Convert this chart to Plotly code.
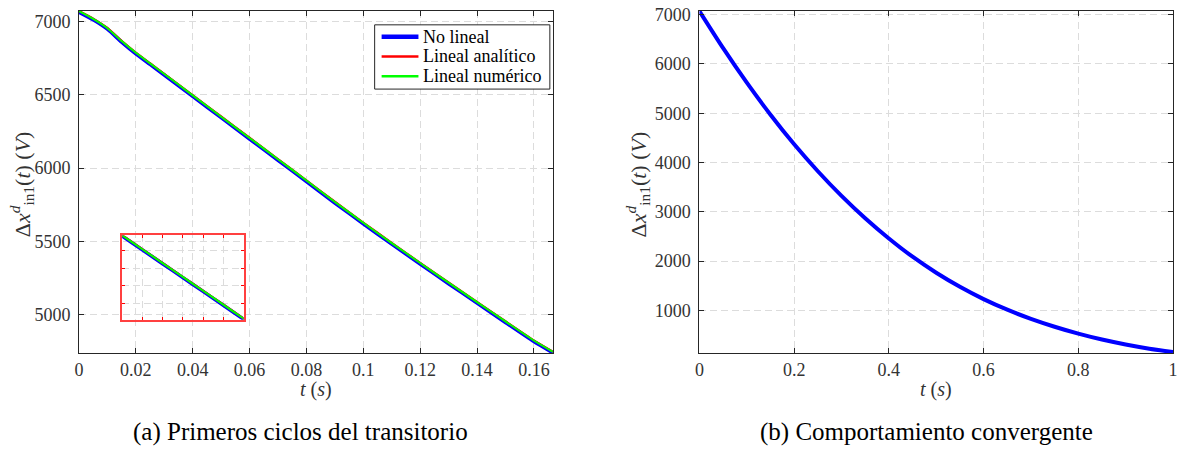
import plotly.graph_objects as go

# ---------------- data ----------------
# (a) first cycles of the transient
t_a = [0.0, 0.005, 0.01, 0.015, 0.02, 0.025, 0.03, 0.04, 0.05, 0.06, 0.07,
       0.08, 0.09, 0.10, 0.11, 0.12, 0.13, 0.14, 0.15, 0.16, 0.1667]
no_lineal = [7062, 7010, 6946, 6858, 6778, 6706, 6634, 6488, 6343, 6198, 6053,
             5908, 5762, 5620, 5482, 5346, 5212, 5080, 4948, 4818, 4741]
lineal_analitico = [7071, 7019, 6955, 6867, 6787, 6715, 6643, 6497, 6352, 6207, 6062,
                    5917, 5771, 5629, 5491, 5355, 5221, 5089, 4957, 4827, 4750]
lineal_numerico = [7069, 7017, 6953, 6865, 6785, 6713, 6641, 6495, 6350, 6205, 6060,
                   5915, 5769, 5627, 5489, 5353, 5219, 5087, 4955, 4825, 4748]

# (b) convergent behaviour
t_b = [0.0, 0.05, 0.10, 0.15, 0.20, 0.25, 0.30, 0.35, 0.40, 0.45, 0.50,
       0.55, 0.60, 0.65, 0.70, 0.75, 0.80, 0.85, 0.90, 0.95, 1.0]
conv = [7070, 6320, 5620, 4970, 4370, 3824, 3324, 2870, 2460, 2090, 1765,
        1480, 1230, 1015, 830, 670, 530, 410, 310, 225, 155]

xa_ticks = [0, 0.02, 0.04, 0.06, 0.08, 0.10, 0.12, 0.14, 0.16]
xa_text = ["0", "0.02", "0.04", "0.06", "0.08", "0.1", "0.12", "0.14", "0.16"]
ya_ticks = [5000, 5500, 6000, 6500, 7000]
xb_ticks = [0, 0.2, 0.4, 0.6, 0.8, 1.0]
xb_text = ["0", "0.2", "0.4", "0.6", "0.8", "1"]
yb_ticks = [1000, 2000, 3000, 4000, 5000, 6000, 7000]

series_names = ["No lineal", "Lineal analítico", "Lineal numérico"]
series_colors = ["#0000ff", "#ff0000", "#00ff00"]
caption_a = "(a) Primeros ciclos del transitorio"
caption_b = "(b) Comportamiento convergente"

# ---------------- figure ----------------
FONT = "Liberation Serif"
AX = "#262626"
TXT = "#333333"
GRID = "#dcdcdc"

W, H = 1183, 451
L, R, T, B = 79, 5, 7, 98
pw = W - L - R
ph = H - T - B


def px(x):
    return (x - L) / pw


def py(y):
    return 1 - (y - T) / ph


fig = go.Figure()
widths = [3.5, 2, 2]
series_vals = [no_lineal, lineal_analitico, lineal_numerico]
for vals, col, w, name in zip(series_vals, series_colors, widths, series_names):
    fig.add_trace(go.Scatter(x=t_a, y=vals, mode="lines", name=name, showlegend=False,
                             line=dict(color=col, width=w, shape="spline", smoothing=0.5),
                             xaxis="x", yaxis="y"))
# inset (zoom window)
for vals, col, w, name in zip(series_vals, series_colors, widths, series_names):
    fig.add_trace(go.Scatter(x=t_a, y=vals, mode="lines", name=name, showlegend=False,
                             line=dict(color=col, width=w, shape="spline", smoothing=0.5),
                             xaxis="x3", yaxis="y3"))
fig.add_trace(go.Scatter(x=t_b, y=conv, mode="lines", name=series_names[0], showlegend=False,
                         line=dict(color="#0000ff", width=4, shape="spline", smoothing=0.8),
                         xaxis="x2", yaxis="y2"))

common = dict(showline=True, linecolor=AX, linewidth=1, mirror="ticks", ticks="inside",
              ticklen=5, tickcolor=AX, showgrid=True, gridcolor=GRID, gridwidth=1,
              griddash="7px,4px", zeroline=False,
              tickfont=dict(family=FONT, size=18, color=TXT))
inset = dict(showline=True, linecolor="#ff4040", linewidth=1.5, mirror="ticks",
             ticks="inside", ticklen=3, tickcolor="#ff0000", showticklabels=False,
             tickmode="linear", showgrid=True, gridcolor=GRID, griddash="7px,4px",
             zeroline=False)

fig.update_layout(
    width=W, height=H,
    margin=dict(l=L, r=R, t=T, b=B),
    paper_bgcolor="white", plot_bgcolor="rgba(0,0,0,0)",
    font=dict(family=FONT, color=TXT),
    showlegend=False,
    xaxis=dict(domain=[0, px(555)], range=[0, 1 / 6], tickvals=xa_ticks, ticktext=xa_text,
               anchor="y", **common),
    yaxis=dict(domain=[0, 1], range=[4740, 7070], tickvals=ya_ticks, anchor="x",
               ticklabelstandoff=4, **common),
    xaxis2=dict(domain=[px(702.3), 1], range=[0, 1], tickvals=xb_ticks, ticktext=xb_text,
                anchor="y2", **common),
    yaxis2=dict(domain=[0, 1], range=[137, 7074], tickvals=yb_ticks, anchor="x2",
                ticklabelstandoff=4, **common),
    xaxis3=dict(domain=[px(122.3), px(244.3)], range=[0.03, 0.09], anchor="y3",
                tick0=0.03, dtick=0.01, **inset),
    yaxis3=dict(domain=[py(319.3), py(234)], range=[5757, 6640], anchor="x3",
                tick0=5923, dtick=187, **inset),
)

ann = []
shapes = []
ylab = "Δ<i>x</i><sup><i>d</i></sup><sub>in1</sub>(<i>t</i>) (<i>V</i>)"
for xpix in (22, 641):
    ann.append(dict(text=ylab, x=px(xpix), y=py(182), xref="paper", yref="paper", textangle=-90,
                    xanchor="center", yanchor="middle",
                    showarrow=False, font=dict(family=FONT, size=22, color=TXT)))
xlab = "<i>t</i> (<i>s</i>)"
for xpix in (317, 940):
    ann.append(dict(text=xlab, x=px(xpix), y=py(390), xref="paper", yref="paper",
                    xanchor="center", yanchor="middle",
                    showarrow=False, font=dict(family=FONT, size=20, color=TXT)))
for cap, xpix in ((caption_a, 302), (caption_b, 930)):
    ann.append(dict(text=cap, x=px(xpix), y=py(433), xref="paper", yref="paper",
                    xanchor="center", yanchor="middle",
                    showarrow=False, font=dict(family=FONT, size=25, color="#000000")))

# legend box (drawn like the MATLAB legend)
shapes.append(dict(type="rect", xref="paper", yref="paper", x0=px(376), x1=px(552),
                   y0=py(86), y1=py(21), line=dict(color="#262626", width=1),
                   fillcolor="white", layer="above"))
for i, (name, col, w) in enumerate(zip(series_names, series_colors, [4.5, 2.5, 2.5])):
    yy = 33 + 20 * i
    shapes.append(dict(type="line", xref="paper", yref="paper", x0=px(383), x1=px(420),
                       y0=py(yy), y1=py(yy), line=dict(color=col, width=w), layer="above"))
    ann.append(dict(text=name, x=px(423), y=py(yy), xref="paper", yref="paper",
                    xanchor="left", yanchor="middle", showarrow=False,
                    font=dict(family=FONT, size=18, color="#000000")))

fig.update_layout(annotations=ann, shapes=shapes)
fig.write_html("out.html")
